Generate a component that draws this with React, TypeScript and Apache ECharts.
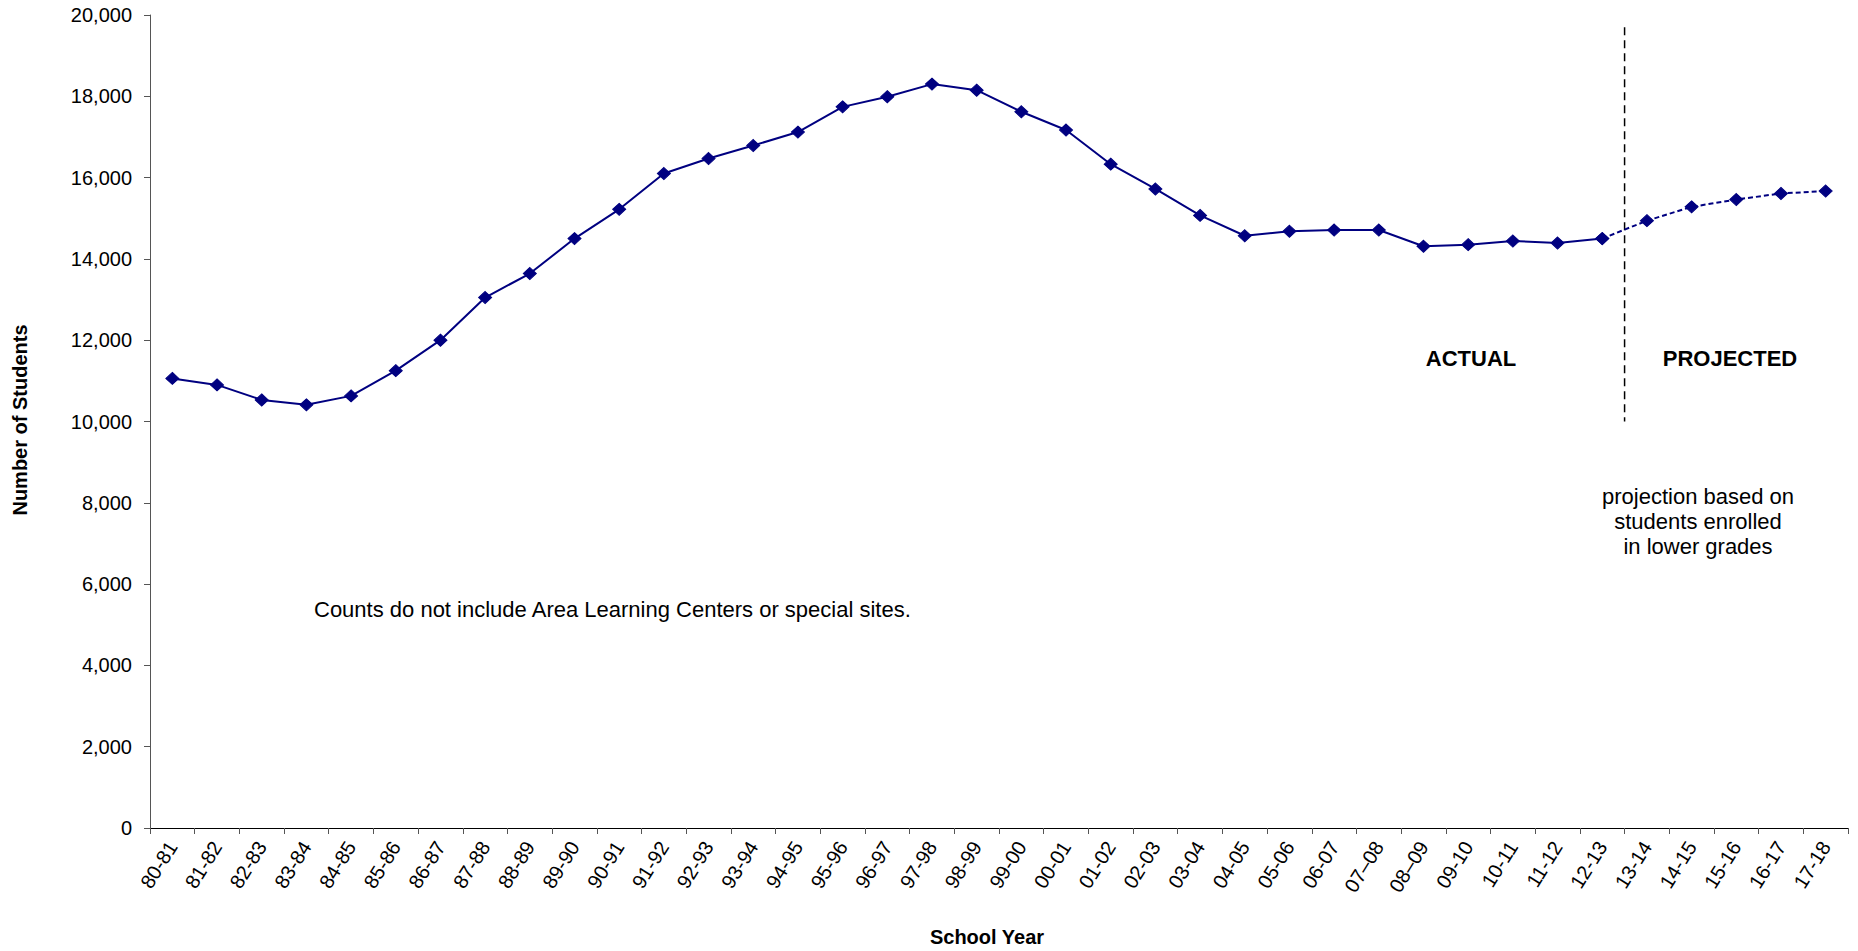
import React, { useEffect, useRef } from "react";
import * as echarts from "echarts";

// School years on the category axis
const schoolYears = [
  "80-81", "81-82", "82-83", "83-84", "84-85", "85-86", "86-87", "87-88",
  "88-89", "89-90", "90-91", "91-92", "92-93", "93-94", "94-95", "95-96",
  "96-97", "97-98", "98-99", "99-00", "00-01", "01-02", "02-03", "03-04",
  "04-05", "05-06", "06-07", "07–08", "08–09", "09-10", "10-11", "11-12",
  "12-13", "13-14", "14-15", "15-16", "16-17", "17-18",
];

// Enrolled students, 80-81 through 12-13
const actualCounts = [
  11060, 10900, 10530, 10410, 10630, 11250, 12000, 13050, 13640, 14500,
  15220, 16100, 16470, 16790, 17120, 17740, 17990, 18300, 18150, 17620,
  17170, 16330, 15720, 15070, 14570, 14680, 14710, 14710, 14310, 14350,
  14440, 14390, 14500,
];

// Projected students, 13-14 through 17-18
const projectedCounts = [14940, 15280, 15460, 15610, 15670];

// Y axis range and tick step
const yMin = 0;
const yMax = 20000;
const yStep = 2000;

// Vertical extent of the actual / projected divider (in student counts)
const dividerTop = 19700;
const dividerBottom = 10000;

const NAVY = "#000080";
const FONT = "'Liberation Sans', Arial, sans-serif";

export default function App() {
  const ref = useRef<HTMLDivElement>(null);

  useEffect(() => {
    if (!ref.current) return;
    const chart = echarts.init(ref.current, undefined, { renderer: "svg" });

    const lastActual = actualCounts.length - 1;
    const actualData = schoolYears.map((_, i) =>
      i <= lastActual ? actualCounts[i] : null
    );
    // projected line starts from the last actual point
    const projectedData = schoolYears.map((_, i) => {
      if (i === lastActual) return actualCounts[lastActual];
      if (i > lastActual) return projectedCounts[i - lastActual - 1];
      return null;
    });

    // divider sits on the boundary between the last actual and first projected year
    const dividerX = actualCounts.length;

    const marker = {
      symbol: "diamond",
      symbolSize: [13, 12],
      itemStyle: { color: NAVY, borderColor: NAVY, borderWidth: 1 },
    };

    chart.setOption({
      animation: false,
      backgroundColor: "#ffffff",
      textStyle: { fontFamily: FONT },
      grid: { left: 150, right: 10, top: 15, bottom: 123, containLabel: false },
      xAxis: [
        {
          type: "category",
          data: schoolYears,
          boundaryGap: true,
          axisLine: { show: true, lineStyle: { color: "#000000", width: 1 } },
          axisTick: {
            show: true,
            alignWithLabel: false,
            length: 6,
            lineStyle: { color: "#555555", width: 1 },
          },
          axisLabel: {
            interval: 0,
            rotate: 58,
            margin: 15,
            color: "#000000",
            fontSize: 20,
            fontFamily: FONT,
          },
          splitLine: { show: false },
        },
        {
          type: "value",
          min: 0,
          max: schoolYears.length,
          show: false,
        },
      ],
      yAxis: {
        type: "value",
        min: yMin,
        max: yMax,
        interval: yStep,
        axisLine: { show: true, lineStyle: { color: "#555555", width: 1 } },
        axisTick: { show: true, length: 6, lineStyle: { color: "#555555" } },
        axisLabel: {
          margin: 18,
          color: "#000000",
          fontSize: 20,
          fontFamily: FONT,
          formatter: (v: number) => v.toLocaleString("en-US"),
        },
        splitLine: { show: false },
      },
      series: [
        {
          name: "Actual",
          type: "line",
          data: actualData,
          ...marker,
          lineStyle: { color: NAVY, width: 2 },
          connectNulls: false,
          z: 3,
        },
        {
          name: "Projected",
          type: "line",
          data: projectedData,
          ...marker,
          showSymbol: true,
          lineStyle: { color: NAVY, width: 2, type: [5, 3] },
          z: 3,
        },
        {
          name: "Divider",
          type: "line",
          xAxisIndex: 1,
          data: [
            [dividerX, dividerTop],
            [dividerX, dividerBottom],
          ],
          symbol: "none",
          lineStyle: { color: "#000000", width: 1.5, type: [8, 5] },
          silent: true,
          z: 2,
        },
      ],
      graphic: [
        {
          type: "text",
          left: 314,
          top: 598,
          style: {
            text: "Counts do not include Area Learning Centers or special sites.",
            fontSize: 22,
            fontFamily: FONT,
            fill: "#000000",
          },
        },
        {
          type: "text",
          x: 1471,
          y: 358,
          style: {
            text: "ACTUAL",
            fontSize: 22,
            fontWeight: "bold",
            fontFamily: FONT,
            fill: "#000000",
            textAlign: "center",
            textVerticalAlign: "middle",
          },
        },
        {
          type: "text",
          x: 1730,
          y: 358,
          style: {
            text: "PROJECTED",
            fontSize: 22,
            fontWeight: "bold",
            fontFamily: FONT,
            fill: "#000000",
            textAlign: "center",
            textVerticalAlign: "middle",
          },
        },
        {
          type: "text",
          x: 1698,
          y: 521,
          style: {
            text: "projection based on\nstudents enrolled\nin lower grades",
            fontSize: 22,
            lineHeight: 25,
            fontFamily: FONT,
            fill: "#000000",
            textAlign: "center",
            textVerticalAlign: "middle",
          },
        },
        {
          type: "text",
          x: 987,
          y: 937,
          style: {
            text: "School Year",
            fontSize: 20,
            fontWeight: "bold",
            fontFamily: FONT,
            fill: "#000000",
            textAlign: "center",
            textVerticalAlign: "middle",
          },
        },
        {
          type: "text",
          x: 20,
          y: 420,
          rotation: Math.PI / 2,
          style: {
            text: "Number of Students",
            fontSize: 20,
            fontWeight: "bold",
            fontFamily: FONT,
            fill: "#000000",
            textAlign: "center",
            textVerticalAlign: "middle",
          },
        },
      ],
    });

    return () => chart.dispose();
  }, []);

  return (
    <div
      ref={ref}
      style={{ position: "absolute", left: 0, top: 0, width: 1858, height: 951 }}
    />
  );
}
